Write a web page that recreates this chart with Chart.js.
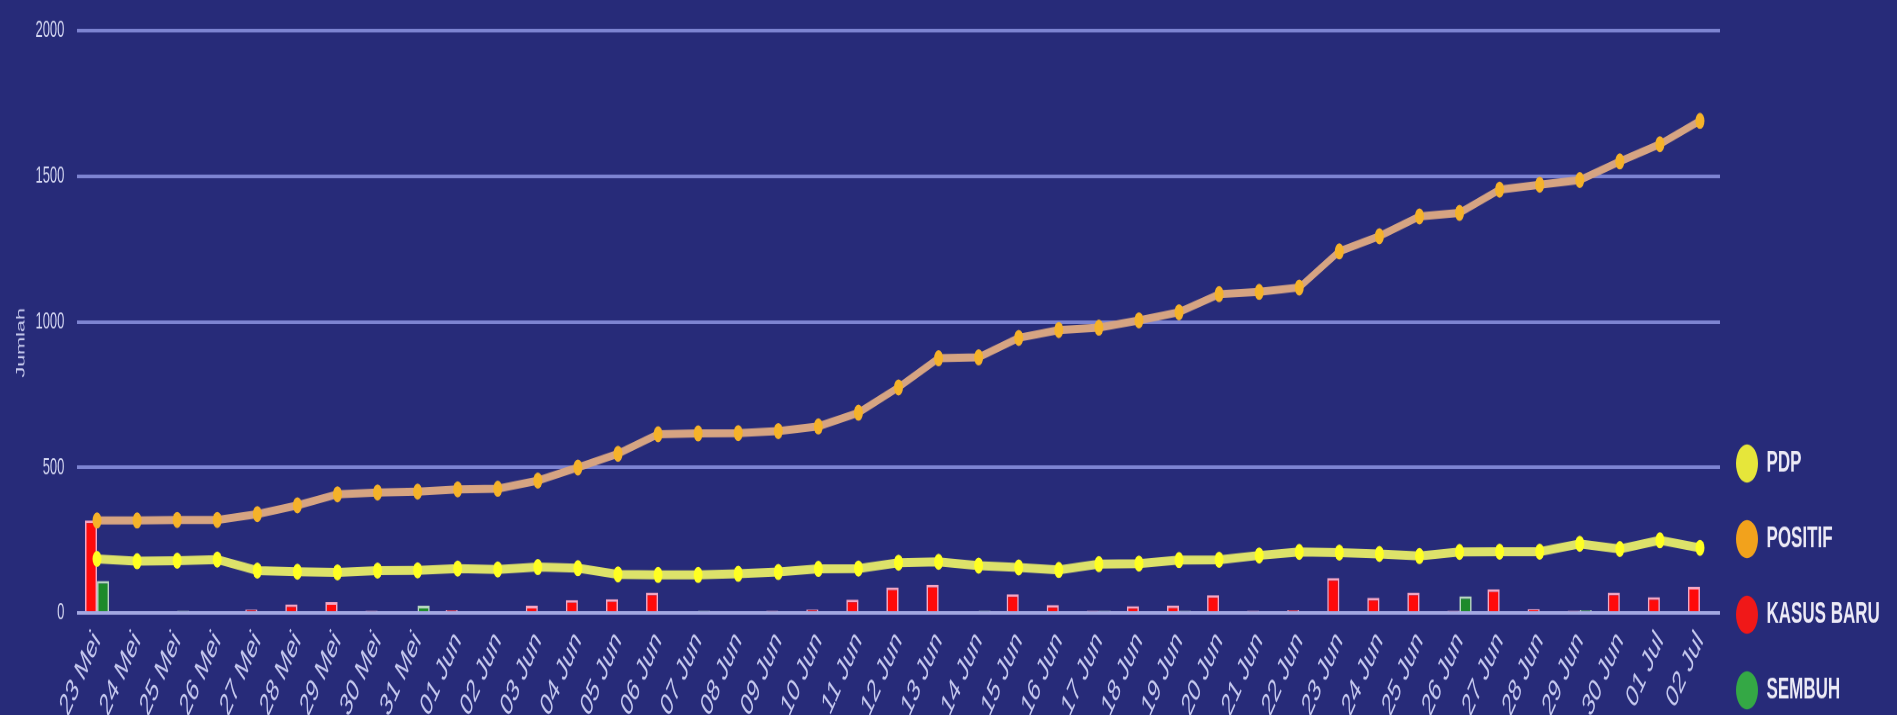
<!DOCTYPE html>
<html><head><meta charset="utf-8">
<script src="https://cdn.jsdelivr.net/npm/chart.js@4.4.0/dist/chart.umd.min.js"></script>
<style>
html,body{margin:0;padding:0;background:#272b79;overflow:hidden;width:1897px;height:715px;}
#wrap{position:absolute;left:0;top:0;width:1897px;height:417px;transform:scaleY(1.8);transform-origin:0 0;}
canvas{display:block;}
</style></head><body>
<div id="wrap"><canvas id="c" width="1897" height="417"></canvas></div>
<script>
const categories = ['23 Mei','24 Mei','25 Mei','26 Mei','27 Mei','28 Mei','29 Mei','30 Mei','31 Mei',
'01 Jun','02 Jun','03 Jun','04 Jun','05 Jun','06 Jun','07 Jun','08 Jun','09 Jun','10 Jun',
'11 Jun','12 Jun','13 Jun','14 Jun','15 Jun','16 Jun','17 Jun','18 Jun','19 Jun','20 Jun',
'21 Jun','22 Jun','23 Jun','24 Jun','25 Jun','26 Jun','27 Jun','28 Jun','29 Jun','30 Jun',
'01 Jul','02 Jul'];
const pdp = [186,178,180,184,146,142,140,146,147,153,150,158,154,133,131,131,135,141,152,153,173,176,163,157,148,168,170,182,183,198,210,208,203,196,210,211,211,238,220,250,224];
const positif = [318,318,320,320,340,370,408,414,417,425,427,455,500,547,614,617,618,625,641,688,775,875,878,945,972,980,1005,1033,1095,1103,1118,1242,1294,1362,1374,1454,1471,1487,1551,1610,1690];
const kasusBaru = [318,0,0,0,12,30,38,8,0,10,0,25,45,48,70,0,0,8,12,46,88,97,6,65,28,8,24,26,62,8,10,120,52,70,8,82,14,8,70,55,90];
const sembuh = [110,0,8,0,0,0,0,0,25,0,0,0,0,0,6,8,0,0,0,6,0,0,8,6,0,8,0,8,0,6,0,0,0,0,58,0,6,10,0,0,0];
const yTicks = [0,500,1000,1500,2000];
const seriesNames = ['PDP','POSITIF','KASUS BARU','SEMBUH'];
const legendColors = ['#e6e63a','#f2a21c','#f01818','#34a845'];
const yTitle = 'Jumlah';

const bg = {id:'bg', beforeDraw(c){const ctx=c.ctx; ctx.save(); ctx.fillStyle='#272b79'; ctx.fillRect(0,0,c.width,c.height); ctx.restore();}};
const legendShift = {id:'legendShift', afterLayout(c){ if(c.legend){ c.legend.left -= 9; c.legend.right -= 9; } }};

new Chart(document.getElementById('c'), {
  type:'bar',
  data:{
    labels: categories,
    datasets:[
      {type:'line', label:seriesNames[0], data:pdp, borderColor:'#dde26a', backgroundColor:'#ffff22', borderWidth:5,
       pointRadius:4.5, pointStyle:'circle', pointBackgroundColor:'#ffff22', pointBorderColor:'#ffff22', pointBorderWidth:0, tension:0},
      {type:'line', label:seriesNames[1], data:positif, borderColor:'#d6a482', backgroundColor:'#f5b22a', borderWidth:4.5,
       pointRadius:4.5, pointStyle:'circle', pointBackgroundColor:'#f5b22a', pointBorderColor:'#f5b22a', pointBorderWidth:0, tension:0},
      {type:'bar', label:seriesNames[2], data:kasusBaru, backgroundColor:'#ff0a0a', borderColor:'#f5a7c4', borderWidth:1.5,
       categoryPercentage:0.6, barPercentage:1.0},
      {type:'bar', label:seriesNames[3], data:sembuh, backgroundColor:'#1d8a2a', borderColor:'#b8d8c0', borderWidth:1.5,
       categoryPercentage:0.6, barPercentage:1.0}
    ]
  },
  options:{
    responsive:false, animation:false, devicePixelRatio:2,
    layout:{padding:{top:17,left:0,right:0,bottom:0}},
    plugins:{
      tooltip:{enabled:false},
      legend:{position:'right', align:'end', maxWidth:177,
        labels:{usePointStyle:true, pointStyle:'circle', pointStyleWidth:22, boxHeight:15, padding:25,
          color:'#eceaf6', font:{family:'Liberation Sans', size:17, weight:'bold'},
          generateLabels(chart){
            const items = Chart.defaults.plugins.legend.labels.generateLabels(chart);
            items.forEach((it,i)=>{ it.fillStyle=legendColors[i]; it.strokeStyle=legendColors[i]; it.lineWidth=0; it.pointStyle='circle'; });
            return items;
          }}
      }
    },
    scales:{
      x:{offset:true, grid:{display:false, drawTicks:false}, border:{display:false},
         ticks:{color:'#c6c9ef', font:{family:'Liberation Sans', size:18}, minRotation:52, maxRotation:52, autoSkip:false, padding:6},
         afterFit(s){ s.height = 76.4; }},
      y:{min:yTicks[0], max:yTicks[yTicks.length-1],
         afterBuildTicks(s){ s.ticks = yTicks.map(v=>({value:v})); },
         ticks:{color:'#d6d8f2', font:{family:'Liberation Sans', size:13}, padding:9,
                callback:(v)=> String(v) + '\u00A0'},
         grid:{color:(ctx)=> (ctx.tick && ctx.tick.value===0) ? '#a3a8e2' : '#7d84d2', lineWidth:2, drawTicks:false},
         border:{display:false},
         title:{display:true, text: yTitle + '\u00A0'.repeat(7), color:'#c8cbee', font:{family:'Liberation Sans', size:12}, padding:{top:14,bottom:0}},
         afterFit(s){ s.width = 77; }}
    }
  },
  plugins:[bg, legendShift]
});
</script>
</body></html>
